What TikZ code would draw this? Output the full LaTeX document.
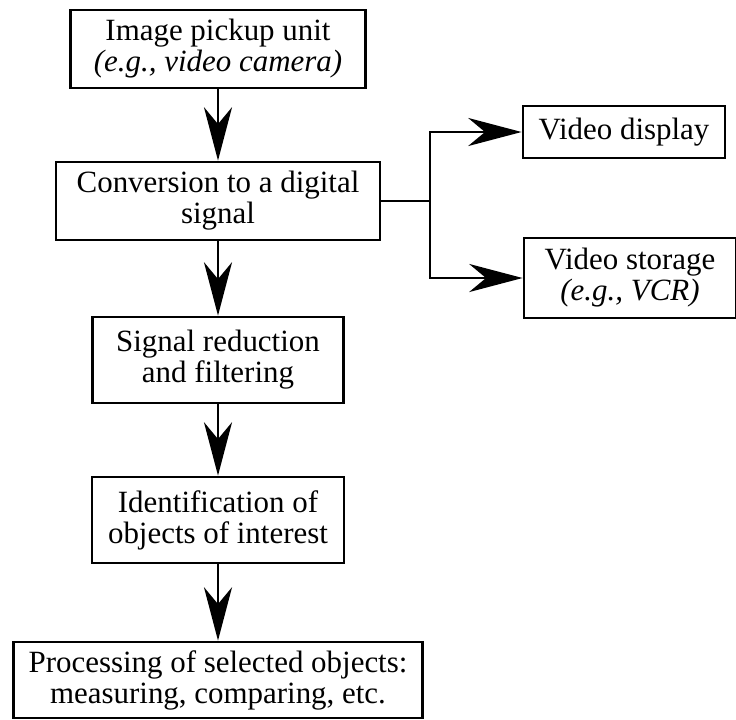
\documentclass[tikz,border=0pt]{standalone}
\usepackage{fontspec}
\setmainfont{Liberation Serif}
\usetikzlibrary{arrows.meta}
\tikzset{
	box/.style={draw, line width=2pt, align=center, inner sep=0pt, font=\fontsize{22}{22}\selectfont},
	conn/.style={line width=1.3pt, -{Stealth[length=38pt, width=20pt, inset=12pt]}}
}
\begin{document}
	\begin{tikzpicture}[x=0.025cm,y=-0.025cm]
		\pgfmathsetmacro{\xMid}{218};
		\pgfmathsetmacro{\xFork}{430};
		\useasboundingbox (0,0) rectangle (736,719);
		\node[box, minimum width=7.375cm, minimum height=1.95cm] (pick) at (\xMid,49) {Image pickup unit\\\textit{(e.g., video camera)}};
		\node[box, minimum width=8.1cm, minimum height=1.95cm] (conv) at (\xMid,201) {Conversion to a digital\\signal};
		\node[box, minimum width=6.275cm, minimum height=2.15cm] (reduce) at (\xMid,360) {Signal reduction\\and filtering};
		\node[box, minimum width=6.3cm, minimum height=2.15cm] (ident) at (\xMid,520) {Identification of\\objects of interest};
		\node[box, minimum width=10.225cm, minimum height=1.9cm] (proc) at (\xMid,680) {Processing of selected objects:\\measuring, comparing, etc.};
		\node[box, minimum width=5.05cm, minimum height=1.3cm] (disp) at (624,132) {Video display};
		\node[box, minimum width=5.3cm, minimum height=2cm] (stor) at (630,278) {Video storage\\\textit{(e.g., VCR)}};
		\coordinate (fork) at (\xFork,201);
		\draw[conn] (pick) -- (conv);
		\draw[conn] (conv) -- (reduce);
		\draw[conn] (reduce) -- (ident);
		\draw[conn] (ident) -- (proc);
		\draw[line width=1.3pt] (conv.east) -- (fork);
		\draw[conn] (fork) |- (disp);
		\draw[conn] (fork) |- (stor);
	\end{tikzpicture}
\end{document}
